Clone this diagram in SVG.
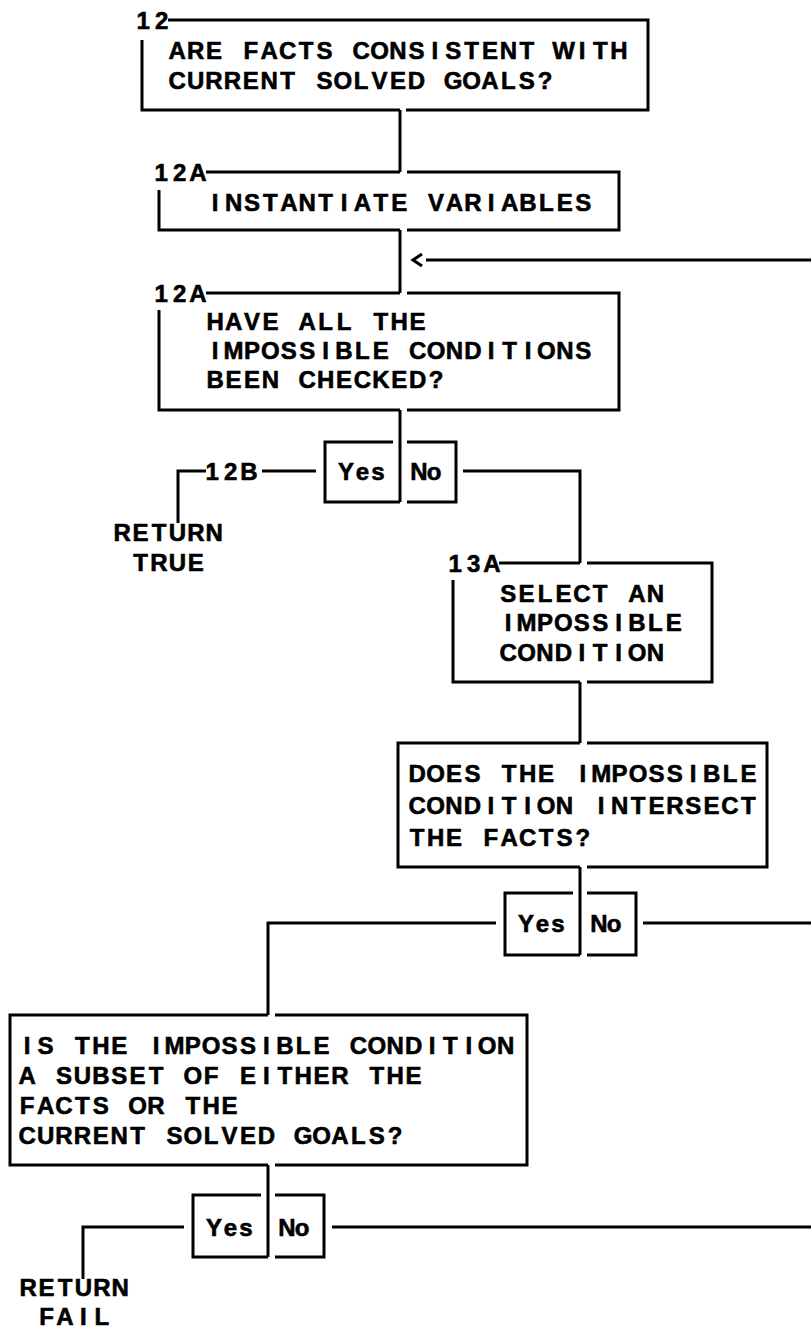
<svg xmlns="http://www.w3.org/2000/svg" width="811" height="1328" viewBox="0 0 811 1328">
  <style>
    .ln { fill: none; stroke: #000; stroke-width: 3; stroke-linejoin: miter; stroke-linecap: butt; }
    .t { font-family: "Liberation Sans", Arial, sans-serif; font-weight: bold; font-size: 24px; fill: #000; stroke: #000; stroke-width: 0.6; text-anchor: middle; }
    .yn { font-family: "Liberation Sans", Arial, sans-serif; font-weight: bold; font-size: 24px; fill: #000; stroke: #000; stroke-width: 0.6; text-anchor: middle; }
  </style>
  <rect width="811" height="1328" fill="#fff"/>

  <!-- step 12 -->
  <g id="n12">
    <text class="t" x="143.2 161.6" y="28.5">12</text>
    <path class="ln" d="M168,20 H648 V110 H406 M400,110 H142 V40"/>
    <text class="t" x="177.2 195.6 214 232.4 250.8 269.2 287.6 306 324.4 342.8 361.2 379.6 398 416.4 434.8 453.2 471.6 490 508.4 526.8 545.2 563.6 582 600.4 618.8" y="58.5">ARE FACTS CONSISTENT WITH</text>
    <text class="t" x="177.2 195.6 214 232.4 250.8 269.2 287.6 306 324.4 342.8 361.2 379.6 398 416.4 434.8 453.2 471.6 490 508.4 526.8 545.2" y="88.5">CURRENT SOLVED GOALS?</text>
  </g>

  <!-- step 12A: instantiate -->
  <g id="n12a-inst">
    <text class="t" x="161.2 179.6 198" y="180.5">12A</text>
    <path class="ln" d="M206,172 H400 M407,172 H619 V230 H407 M400,230 H159 V190"/>
    <text class="t" x="215.2 233.6 252 270.4 288.8 307.2 325.6 344 362.4 380.8 399.2 417.6 436 454.4 472.8 491.2 509.6 528 546.4 564.8 583.2" y="210.5">INSTANTIATE VARIABLES</text>
  </g>

  <!-- step 12A: check loop -->
  <g id="n12a-check">
    <text class="t" x="161.2 179.6 198" y="301.5">12A</text>
    <path class="ln" d="M206,293 H400 M407,293 H619 V410 H407 M400,410 H159 V310"/>
    <text class="t" x="215.2 233.6 252 270.4 288.8 307.2 325.6 344 362.4 380.8 399.2 417.6" y="329.5">HAVE ALL THE</text>
    <text class="t" x="215.2 233.6 252 270.4 288.8 307.2 325.6 344 362.4 380.8 399.2 417.6 436 454.4 472.8 491.2 509.6 528 546.4 564.8 583.2" y="358.5">IMPOSSIBLE CONDITIONS</text>
    <text class="t" x="215.2 233.6 252 270.4 288.8 307.2 325.6 344 362.4 380.8 399.2 417.6 436" y="387.5">BEEN CHECKED?</text>
  </g>

  <!-- decision 1 -->
  <g id="d1">
    <path class="ln" d="M393,442 H325 V502 H400 M407,442 H456 V502 H407"/>
    <text class="yn" x="346 362.5 378" y="480">Yes</text>
    <text class="yn" x="419 434" y="480">No</text>
  </g>

  <g id="ret-true">
    <text class="t" x="212.2 230.6 249" y="479.5">12B</text>
    <text class="t" x="122.2 140.6 159 177.4 195.8 214.2" y="540.5">RETURN</text>
    <text class="t" x="140.6 159 177.4 195.8" y="570.5">TRUE</text>
  </g>

  <!-- step 13A -->
  <g id="n13a">
    <text class="t" x="455.2 473.6 492" y="571.5">13A</text>
    <path class="ln" d="M499,563 H580 M587,563 H712 V682 H587 M580,682 H453 V580"/>
    <text class="t" x="508.2 526.6 545 563.4 581.8 600.2 618.6 637 655.4" y="601.5">SELECT AN</text>
    <text class="t" x="508.2 526.6 545 563.4 581.8 600.2 618.6 637 655.4 673.8" y="630.5">IMPOSSIBLE</text>
    <text class="t" x="508.2 526.6 545 563.4 581.8 600.2 618.6 637 655.4" y="660.5">CONDITION</text>
  </g>

  <!-- intersect test -->
  <g id="n-intersect">
    <path class="ln" d="M580,743 H398 V867 H580 M587,743 H767 V867 H587"/>
    <text class="t" x="417.2 435.6 454 472.4 490.8 509.2 527.6 546 564.4 582.8 601.2 619.6 638 656.4 674.8 693.2 711.6 730 748.4" y="781.5">DOES THE IMPOSSIBLE</text>
    <text class="t" x="417.2 435.6 454 472.4 490.8 509.2 527.6 546 564.4 582.8 601.2 619.6 638 656.4 674.8 693.2 711.6 730 748.4" y="813.5">CONDITION INTERSECT</text>
    <text class="t" x="417.2 435.6 454 472.4 490.8 509.2 527.6 546 564.4 582.8" y="845.5">THE FACTS?</text>
  </g>

  <!-- decision 2 -->
  <g id="d2">
    <path class="ln" d="M573,893 H505 V955 H580 M587,893 H636 V955 H587"/>
    <text class="yn" x="526 542.5 558" y="932">Yes</text>
    <text class="yn" x="599 614" y="932">No</text>
  </g>

  <!-- subset test -->
  <g id="n-subset">
    <path class="ln" d="M268,1015 H10 V1165 H268 M275,1015 H527 V1165 H275"/>
    <text class="t" x="27.2 45.6 64 82.4 100.8 119.2 137.6 156 174.4 192.8 211.2 229.6 248 266.4 284.8 303.2 321.6 340 358.4 376.8 395.2 413.6 432 450.4 468.8 487.2 505.6" y="1053.5">IS THE IMPOSSIBLE CONDITION</text>
    <text class="t" x="27.2 45.6 64 82.4 100.8 119.2 137.6 156 174.4 192.8 211.2 229.6 248 266.4 284.8 303.2 321.6 340 358.4 376.8 395.2 413.6" y="1083.5">A SUBSET OF EITHER THE</text>
    <text class="t" x="27.2 45.6 64 82.4 100.8 119.2 137.6 156 174.4 192.8 211.2 229.6" y="1113.5">FACTS OR THE</text>
    <text class="t" x="27.2 45.6 64 82.4 100.8 119.2 137.6 156 174.4 192.8 211.2 229.6 248 266.4 284.8 303.2 321.6 340 358.4 376.8 395.2" y="1143.5">CURRENT SOLVED GOALS?</text>
  </g>

  <!-- decision 3 -->
  <g id="d3">
    <path class="ln" d="M261,1195 H193 V1257 H268 M275,1195 H324 V1257 H275"/>
    <text class="yn" x="214 230.5 246" y="1236">Yes</text>
    <text class="yn" x="287 302" y="1236">No</text>
  </g>

  <g id="ret-fail">
    <text class="t" x="28.2 46.6 65 83.4 101.8 120.2" y="1295.5">RETURN</text>
    <text class="t" x="46.6 65 83.4 101.8" y="1325">FAIL</text>
  </g>

  <!-- flow lines -->
  <g id="connectors">
    <path class="ln" d="M400,110 V172"/>
    <path class="ln" d="M400,230 V293"/>
    <path class="ln" d="M426,260 H811"/>
    <path class="ln" d="M422,254 L413,260 L422,266"/>
    <path class="ln" d="M400,410 V502"/>
    <path class="ln" d="M316,471 H262"/>
    <path class="ln" d="M206,471 H178 V523"/>
    <path class="ln" d="M463,471 H580 V563"/>
    <path class="ln" d="M580,682 V743"/>
    <path class="ln" d="M580,867 V955"/>
    <path class="ln" d="M496,923 H268 V1015"/>
    <path class="ln" d="M643,923 H811"/>
    <path class="ln" d="M268,1165 V1257"/>
    <path class="ln" d="M184,1227 H83 V1279"/>
    <path class="ln" d="M332,1227 H811"/>
  </g>
</svg>
